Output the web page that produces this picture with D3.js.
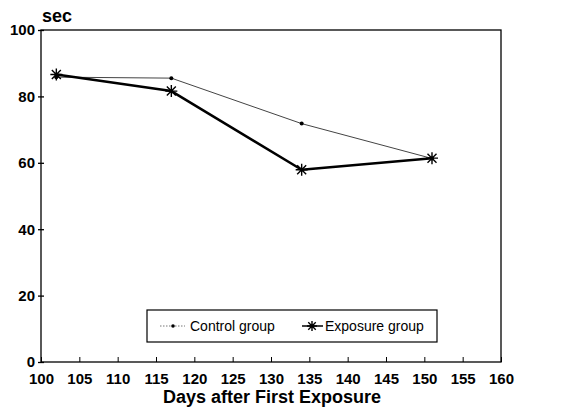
<!DOCTYPE html>
<html>
<head>
<meta charset="utf-8">
<script src="https://cdn.jsdelivr.net/npm/d3@7"></script>
<style>
  body { margin: 0; background: #fff; }
  svg { display: block; font-family: "Liberation Sans", Arial, sans-serif; }
</style>
</head>
<body>
<div id="vis"></div>
<script>
// chart data
const days = [102, 117, 134, 151];
const control = [85.8, 85.5, 71.8, 61.3];
const exposure = [86.6, 81.6, 57.9, 61.4];
const xTicks = [100, 105, 110, 115, 120, 125, 130, 135, 140, 145, 150, 155, 160];
const yTicks = [0, 20, 40, 60, 80, 100];

const W = 568, H = 409;
const margin = { top: 30, right: 67, bottom: 47, left: 41 };
const width = W - margin.left - margin.right;
const height = H - margin.top - margin.bottom;

const svg = d3.select("#vis").append("svg")
  .attr("width", W)
  .attr("height", H);

const g = svg.append("g")
  .attr("transform", `translate(${margin.left},${margin.top})`);

const x = d3.scaleLinear().domain([100, 160]).range([0, width]);
const y = d3.scaleLinear().domain([0, 100]).range([height, 0]);

// frame
g.append("rect")
  .attr("width", width)
  .attr("height", height)
  .attr("fill", "none")
  .attr("stroke", "#000")
  .attr("stroke-width", 1.3);

// x axis: ticks point inward
const xAxis = g.append("g")
  .attr("transform", `translate(0,${height})`)
  .call(d3.axisBottom(x).tickValues(xTicks).tickSize(-5).tickPadding(11));
xAxis.select(".domain").remove();
xAxis.selectAll("text")
  .style("font-size", "15px")
  .style("font-weight", "bold")
  .attr("fill", "#000");

// y axis: ticks cross the frame
const yAxis = g.append("g")
  .call(d3.axisLeft(y).tickValues(yTicks).tickSize(3).tickPadding(3));
yAxis.select(".domain").remove();
yAxis.selectAll("line").attr("x2", -3).attr("x1", 3).attr("stroke-width", 1.3);
yAxis.selectAll("text")
  .style("font-size", "15px")
  .style("font-weight", "bold")
  .attr("fill", "#000");

// unit label
g.append("text")
  .attr("x", 1)
  .attr("y", -8)
  .style("font-size", "18px")
  .style("font-weight", "bold")
  .text("sec");

// axis title
g.append("text")
  .attr("x", width / 2 + 1)
  .attr("y", height + 41)
  .attr("text-anchor", "middle")
  .style("font-size", "18px")
  .style("font-weight", "bold")
  .text("Days after First Exposure");

const ctrlData = days.map((d, i) => ({ day: d, v: control[i] }));
const expData = days.map((d, i) => ({ day: d, v: exposure[i] }));

const line = d3.line()
  .x(d => x(d.day))
  .y(d => y(d.v));

// control line (thin, light)
g.append("path")
  .datum(ctrlData)
  .attr("fill", "none")
  .attr("stroke", "#444")
  .attr("stroke-width", 1)
  .attr("d", line);

g.selectAll(".ctrl-pt")
  .data(ctrlData)
  .join("circle")
  .attr("class", "ctrl-pt")
  .attr("cx", d => x(d.day))
  .attr("cy", d => y(d.v))
  .attr("r", 2)
  .attr("fill", "#000");

// exposure line (thick)
g.append("path")
  .datum(expData)
  .attr("fill", "none")
  .attr("stroke", "#000")
  .attr("stroke-width", 2.5)
  .attr("stroke-linejoin", "round")
  .attr("d", line);

function star(sel, s) {
  sel.append("path")
    .attr("d", `M0,${-s}V${s}M${-s},0H${s}M${-s * 0.75},${-s * 0.75}L${s * 0.75},${s * 0.75}M${-s * 0.75},${s * 0.75}L${s * 0.75},${-s * 0.75}`)
    .attr("stroke", "#000")
    .attr("stroke-width", 1.4);
}

g.selectAll(".exp-pt")
  .data(expData)
  .join("g")
  .attr("class", "exp-pt")
  .attr("transform", d => `translate(${x(d.day)},${y(d.v)})`)
  .each(function () { star(d3.select(this), 6); });

// legend
const lg = svg.append("g").attr("transform", "translate(147,310)");
lg.append("rect")
  .attr("width", 290)
  .attr("height", 32)
  .attr("fill", "#fff")
  .attr("stroke", "#000")
  .attr("stroke-width", 1.2);

lg.append("line")
  .attr("x1", 13).attr("x2", 38)
  .attr("y1", 16).attr("y2", 16)
  .attr("stroke", "#777")
  .attr("stroke-width", 1)
  .attr("stroke-dasharray", "1.5,1.5");
lg.append("circle").attr("cx", 26).attr("cy", 16).attr("r", 1.8).attr("fill", "#000");
lg.append("text")
  .attr("x", 43).attr("y", 21)
  .style("font-size", "14px")
  .text("Control group");

lg.append("line")
  .attr("x1", 155).attr("x2", 176)
  .attr("y1", 16).attr("y2", 16)
  .attr("stroke", "#000")
  .attr("stroke-width", 1.5);
star(lg.append("g").attr("transform", "translate(165,16)"), 5);
lg.append("text")
  .attr("x", 178).attr("y", 21)
  .style("font-size", "14px")
  .text("Exposure group");
</script>
</body>
</html>
